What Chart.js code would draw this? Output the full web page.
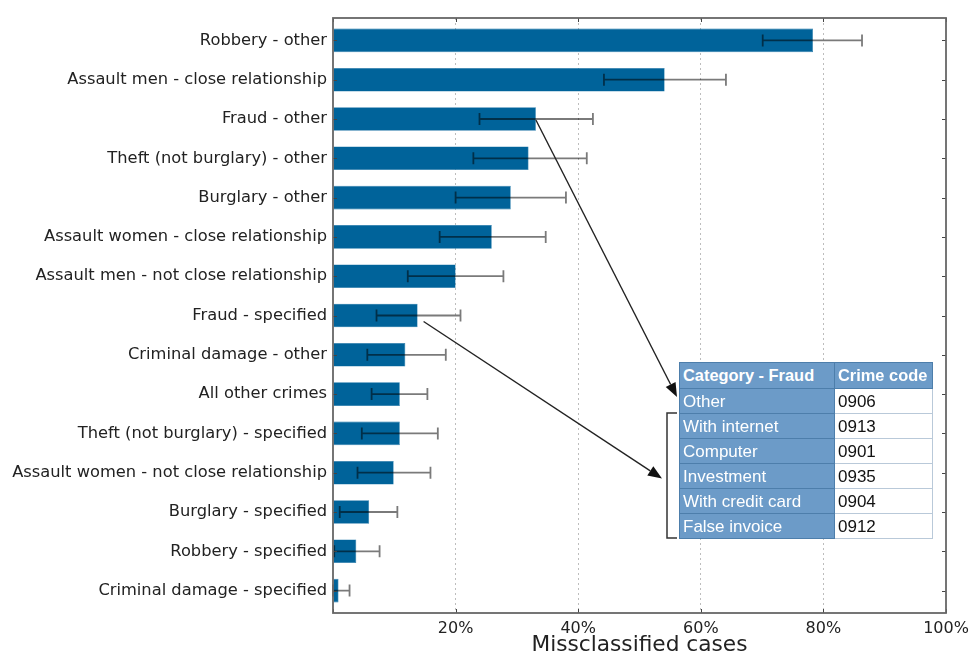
<!DOCTYPE html>
<html>
<head>
<meta charset="utf-8">
<script src="https://cdn.jsdelivr.net/npm/chart.js@4"></script>
<style>
  html, body { margin: 0; padding: 0; background: #fff; }
  #wrap { position: relative; width: 969px; height: 655px; }
  #c { position: absolute; left: 0; top: 0; }
  #codes {
    position: absolute;
    border-collapse: collapse;
    table-layout: fixed;
    width: 253px;
    font-family: "Liberation Sans", Arial, sans-serif;
    font-size: 17px;
    line-height: 1;
  }
  #codes td, #codes th {
    box-sizing: border-box;
    height: 25px;
    padding: 0 3px;
    text-align: left;
    vertical-align: middle;
    white-space: nowrap;
    overflow: hidden;
  }
  #codes th {
    background: #6c9bc8;
    color: #fff;
    font-weight: bold;
    font-size: 16.4px;
    border: 1px solid #4d7eab;
    height: 26px;
  }
  #codes td.cat { background: #6c9bc8; color: #fff; border: 1px solid #4d7eab; }
  #codes td.code { background: #fff; color: #111; border: 1px solid #b9c9d9; }
</style>
</head>
<body>
<div id="wrap">
  <canvas id="c" width="969" height="655"></canvas>
  <table id="codes"></table>
</div>
<script>
// Crime categories, ordered from most to least misclassified
const categories = [
  "Robbery - other",
  "Assault men - close relationship",
  "Fraud - other",
  "Theft (not burglary) - other",
  "Burglary - other",
  "Assault women - close relationship",
  "Assault men - not close relationship",
  "Fraud - specified",
  "Criminal damage - other",
  "All other crimes",
  "Theft (not burglary) - specified",
  "Assault women - not close relationship",
  "Burglary - specified",
  "Robbery - specified",
  "Criminal damage - specified"
];

// Share of misclassified cases (%)
const misclassified = [78.3, 54.1, 33.1, 31.9, 29.0, 25.9, 20.0, 13.8, 11.8, 10.9, 10.9, 9.9, 5.9, 3.8, 0.9];

// Error bar bounds (%)
const errLow  = [70.1, 44.2, 23.9, 22.9, 20.0, 17.4, 12.2, 7.1, 5.6, 6.3, 4.7, 4.0, 1.1, 0.2, 0.0];
const errHigh = [86.3, 64.1, 42.4, 41.4, 38.0, 34.7, 27.8, 20.8, 18.4, 15.4, 17.1, 15.9, 10.5, 7.6, 2.7];

// X axis tick values
const xTicks = [0, 20, 40, 60, 80, 100];

// Fraud sub-categories and their crime codes
const fraudCategories = ["Other", "With internet", "Computer", "Investment", "With credit card", "False invoice"];
const fraudCodes = ["0906", "0913", "0901", "0935", "0904", "0912"];

// Inset table placement (canvas pixels)
const TABLE_X = 679, TABLE_Y = 362, HEADER_H = 26, ROW_H = 25;
const COL1_W = 155, COL2_W = 98;

// Build the inset table
(function buildTable() {
  const t = document.getElementById('codes');
  t.style.left = TABLE_X + 'px';
  t.style.top = TABLE_Y + 'px';
  let html = '<colgroup><col style="width:' + COL1_W + 'px"><col style="width:' + COL2_W + 'px"></colgroup>';
  html += '<tr><th>Category - Fraud</th><th>Crime code</th></tr>';
  fraudCategories.forEach((c, i) => {
    html += '<tr><td class="cat">' + c + '</td><td class="code">' + fraudCodes[i] + '</td></tr>';
  });
  t.innerHTML = html;
})();

const FONT = '"DejaVu Sans", sans-serif';
const TEXT = '#222';
const PAD = 0.57; // extra room above the first and below the last bar, in category units

// Error bars drawn over the bars
const errorBars = {
  id: 'errorBars',
  afterDatasetsDraw(chart) {
    const { ctx, scales: { x, y } } = chart;
    ctx.save();
    ctx.strokeStyle = 'rgba(0,0,0,0.52)';
    ctx.lineWidth = 1.8;
    const cap = 6;
    errLow.forEach((lo, i) => {
      const py = y.getPixelForValue(i);
      const x1 = x.getPixelForValue(lo);
      const x2 = x.getPixelForValue(errHigh[i]);
      ctx.beginPath();
      ctx.moveTo(x1, py); ctx.lineTo(x2, py);
      ctx.moveTo(x1, py - cap); ctx.lineTo(x1, py + cap);
      ctx.moveTo(x2, py - cap); ctx.lineTo(x2, py + cap);
      ctx.stroke();
    });
    ctx.restore();
  }
};

function arrow(ctx, x0, y0, x1, y1) {
  const ang = Math.atan2(y1 - y0, x1 - x0);
  const len = 14, half = 5.5;
  const bx = x1 - len * Math.cos(ang), by = y1 - len * Math.sin(ang);
  ctx.beginPath();
  ctx.moveTo(x0, y0);
  ctx.lineTo(bx, by);
  ctx.stroke();
  ctx.beginPath();
  ctx.moveTo(x1, y1);
  ctx.lineTo(bx + half * Math.sin(ang), by - half * Math.cos(ang));
  ctx.lineTo(bx - half * Math.sin(ang), by + half * Math.cos(ang));
  ctx.closePath();
  ctx.fill();
}

// Frame, inward tick marks, arrows and bracket
const frameAndNotes = {
  id: 'frameAndNotes',
  afterDraw(chart) {
    const { ctx, chartArea: a, scales: { x, y } } = chart;
    ctx.save();
    // inward ticks
    ctx.strokeStyle = '#444';
    ctx.lineWidth = 1;
    categories.forEach((_, i) => {
      const py = Math.round(y.getPixelForValue(i)) + 0.5;
      ctx.beginPath();
      ctx.moveTo(a.left, py); ctx.lineTo(a.left + 4, py);
      ctx.moveTo(a.right, py); ctx.lineTo(a.right - 4, py);
      ctx.stroke();
    });
    xTicks.forEach(v => {
      const px = Math.round(x.getPixelForValue(v)) + 0.5;
      ctx.beginPath();
      ctx.moveTo(px, a.top); ctx.lineTo(px, a.top + 4);
      ctx.moveTo(px, a.bottom); ctx.lineTo(px, a.bottom - 4);
      ctx.stroke();
    });
    // frame
    ctx.strokeStyle = '#666';
    ctx.lineWidth = 1.8;
    ctx.strokeRect(a.left, a.top, a.right - a.left, a.bottom - a.top);

    // arrows from the fraud bars to the table
    ctx.strokeStyle = '#222';
    ctx.fillStyle = '#111';
    ctx.lineWidth = 1.4;
    const iOther = categories.indexOf('Fraud - other');
    const iSpec = categories.indexOf('Fraud - specified');
    arrow(ctx,
      x.getPixelForValue(misclassified[iOther]), y.getPixelForValue(iOther) + 1,
      TABLE_X - 2, TABLE_Y + HEADER_H + 9);
    const brX = TABLE_X - 12;
    const brTop = TABLE_Y + HEADER_H + ROW_H;
    const brBot = TABLE_Y + HEADER_H + ROW_H * fraudCategories.length;
    arrow(ctx,
      x.getPixelForValue(misclassified[iSpec]) + 6, y.getPixelForValue(iSpec) + 6,
      brX - 5, (brTop + brBot) / 2 + 3);
    // bracket
    ctx.strokeStyle = '#333';
    ctx.lineWidth = 1.5;
    ctx.beginPath();
    ctx.moveTo(TABLE_X - 2, brTop);
    ctx.lineTo(brX, brTop);
    ctx.lineTo(brX, brBot);
    ctx.lineTo(TABLE_X - 2, brBot);
    ctx.stroke();
    ctx.restore();
  }
};

new Chart(document.getElementById('c'), {
  type: 'bar',
  data: {
    datasets: [{
      data: misclassified.map((v, i) => ({ x: v, y: i })),
      backgroundColor: '#00639a',
      borderColor: '#1a73a6',
      borderWidth: 0.6,
      barPercentage: 0.6,
      categoryPercentage: 1.0
    }]
  },
  options: {
    indexAxis: 'y',
    responsive: false,
    animation: false,
    layout: { padding: { top: 18, right: 23, left: 0, bottom: 0 } },
    plugins: { legend: { display: false }, tooltip: { enabled: false } },
    scales: {
      x: {
        type: 'linear',
        min: 0, max: 100,
        afterBuildTicks(s) { s.ticks = xTicks.map(v => ({ value: v })); },
        afterFit(s) { s.height = 42; s.paddingLeft = 0; s.paddingRight = 0; },
        ticks: {
          autoSkip: false,
          maxRotation: 0,
          padding: 6,
          color: TEXT,
          font: { family: FONT, size: 16 },
          callback: v => (v === 0 ? '' : v + '%')
        },
        grid: {
          drawTicks: false,
          lineWidth: 1,
          color: c => (c.tick && (c.tick.value === 0 || c.tick.value === 100)) ? 'rgba(0,0,0,0)' : '#bdbdbd'
        },
        border: { display: false, dash: [2, 3] },
        title: {
          display: true,
          text: 'Missclassified cases',
          color: TEXT,
          font: { family: FONT, size: 21.7 },
          padding: { top: 0, bottom: -3 }
        }
      },
      y: {
        type: 'linear',
        reverse: true,
        min: -PAD,
        max: categories.length - 1 + PAD,
        offset: false,
        afterBuildTicks(s) { s.ticks = categories.map((_, i) => ({ value: i })); },
        afterFit(s) { s.width = 333; s.paddingTop = 0; s.paddingBottom = 0; },
        grid: { display: false, drawTicks: false },
        border: { display: false },
        ticks: {
          autoSkip: false,
          padding: 6,
          color: TEXT,
          font: { family: FONT, size: 16.3 },
          callback: v => categories[v]
        }
      }
    }
  },
  plugins: [errorBars, frameAndNotes]
});
</script>
</body>
</html>
